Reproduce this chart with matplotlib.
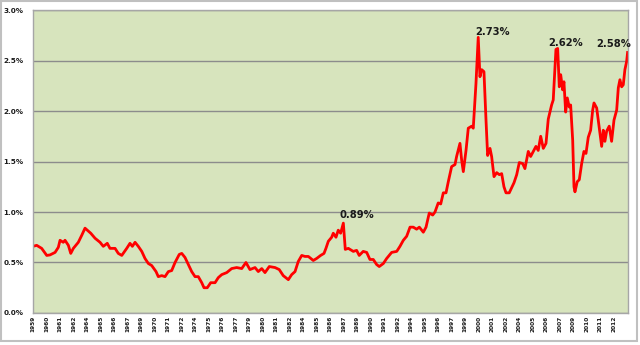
import matplotlib.pyplot as plt
from matplotlib.patches import Rectangle
from matplotlib.ticker import FuncFormatter

# valeurs (annee decimale, %)
annees = [1959.00, 1959.34, 1959.80, 1960.27, 1960.57, 1961.04, 1961.34, 1961.50, 1961.80, 1961.96,
          1962.27, 1962.49, 1962.73, 1963.19, 1963.51, 1963.81, 1964.02, 1964.34, 1964.74, 1965.20,
          1965.50, 1965.87, 1966.12, 1966.59, 1966.89, 1967.21, 1967.67, 1967.97, 1968.19, 1968.44,
          1968.74, 1969.06, 1969.36, 1969.67, 1969.98, 1970.38, 1970.59, 1970.91, 1971.21, 1971.52,
          1971.83, 1972.14, 1972.53, 1972.76, 1973.06, 1973.37, 1973.68, 1973.99, 1974.29, 1974.61,
          1974.82, 1975.12, 1975.44, 1975.84, 1976.14, 1976.46, 1976.92, 1977.38, 1977.84, 1978.31,
          1978.70, 1979.07, 1979.54, 1979.84, 1980.16, 1980.46, 1980.86, 1981.39, 1981.78, 1982.15,
          1982.62, 1982.93, 1983.24, 1983.54, 1983.86, 1984.16, 1984.47, 1984.93, 1985.24, 1985.61,
          1985.92, 1986.10, 1986.32, 1986.63, 1986.78, 1987.03, 1987.24, 1987.46, 1987.71, 1987.89,
          1988.17, 1988.63, 1988.94, 1989.18, 1989.55, 1989.87, 1990.17, 1990.48, 1990.79, 1991.03,
          1991.41, 1991.72, 1992.18, 1992.65, 1992.95, 1993.26, 1993.57, 1993.88, 1994.18, 1994.49,
          1994.74, 1995.11, 1995.36, 1995.66, 1995.98, 1996.19, 1996.49, 1996.72, 1996.96, 1997.21,
          1997.42, 1997.73, 1998.04, 1998.19, 1998.50, 1998.66, 1998.81, 1999.06, 1999.27, 1999.58,
          1999.73, 1999.98, 2000.19, 2000.35, 2000.51, 2000.72, 2000.91, 2001.06, 2001.28, 2001.43,
          2001.65, 2001.90, 2002.14, 2002.36, 2002.57, 2002.76, 2003.06, 2003.28, 2003.50, 2003.75,
          2003.99, 2004.30, 2004.51, 2004.82, 2005.04, 2005.28, 2005.53, 2005.74, 2005.97, 2006.21,
          2006.46, 2006.67, 2006.98, 2007.13, 2007.29, 2007.38, 2007.54, 2007.69, 2007.82, 2008.00,
          2008.12, 2008.28, 2008.43, 2008.61, 2008.74, 2008.93, 2009.05, 2009.14, 2009.35, 2009.54,
          2009.76, 2009.97, 2010.16, 2010.37, 2010.59, 2010.78, 2010.90, 2011.15, 2011.39, 2011.61,
          2011.76, 2011.91, 2012.07, 2012.31, 2012.53, 2012.75, 2013.00, 2013.15, 2013.30, 2013.46,
          2013.61, 2013.76, 2013.92, 2014.01]

valeurs = [0.66, 0.67, 0.64, 0.57, 0.575, 0.60, 0.65, 0.72, 0.70, 0.72,
           0.67, 0.59, 0.64, 0.70, 0.77, 0.84, 0.82, 0.79, 0.74, 0.70,
           0.66, 0.69, 0.64, 0.64, 0.59, 0.57, 0.64, 0.69, 0.66, 0.70,
           0.66, 0.61, 0.54, 0.49, 0.47, 0.41, 0.36, 0.37, 0.36, 0.41,
           0.42, 0.50, 0.58, 0.59, 0.55, 0.48, 0.41, 0.36, 0.36, 0.30,
           0.25, 0.25, 0.30, 0.30, 0.35, 0.38, 0.40, 0.44, 0.45, 0.44,
           0.50, 0.43, 0.45, 0.41, 0.44, 0.40, 0.46, 0.45, 0.43, 0.37,
           0.33, 0.38, 0.41, 0.51, 0.57, 0.56, 0.56, 0.52, 0.54, 0.57,
           0.59, 0.64, 0.71, 0.75, 0.79, 0.75, 0.82, 0.79, 0.89, 0.63,
           0.64, 0.61, 0.62, 0.57, 0.61, 0.60, 0.53, 0.53, 0.48, 0.46,
           0.49, 0.54, 0.60, 0.61, 0.66, 0.72, 0.76, 0.85, 0.85, 0.83,
           0.85, 0.80, 0.85, 0.99, 0.97, 1.00, 1.09, 1.08, 1.19, 1.19,
           1.30, 1.45, 1.47, 1.55, 1.68, 1.51, 1.40, 1.61, 1.83, 1.85,
           1.83, 2.27, 2.73, 2.34, 2.41, 2.39, 1.91, 1.56, 1.63, 1.55,
           1.35, 1.39, 1.37, 1.38, 1.25, 1.19, 1.19, 1.24, 1.29, 1.37,
           1.49, 1.48, 1.43, 1.60, 1.55, 1.60, 1.65, 1.61, 1.75, 1.63,
           1.68, 1.92, 2.06, 2.11, 2.44, 2.61, 2.62, 2.24, 2.36, 2.21,
           2.29, 1.99, 2.13, 2.04, 2.06, 1.71, 1.25, 1.20, 1.30, 1.32,
           1.48, 1.60, 1.58, 1.74, 1.81, 2.01, 2.08, 2.03, 1.83, 1.65,
           1.81, 1.70, 1.80, 1.85, 1.70, 1.91, 2.01, 2.23, 2.31, 2.24,
           2.26, 2.41, 2.49, 2.58]

# etiquettes de l'axe x (une tous les 15 mois, comme Excel)
etiquettes_x = ["1959", "1960", "1961", "1962", "1964", "1965", "1966", "1967", "1969", "1970",
                "1971", "1972", "1974", "1975", "1976", "1977", "1979", "1980", "1981", "1982",
                "1984", "1985", "1986", "1987", "1989", "1990", "1991", "1992", "1994", "1995",
                "1996", "1997", "1999", "2000", "2001", "2002", "2004", "2005", "2006", "2007",
                "2009", "2010", "2011", "2012"]

# pics annotes
pics_texte = ["0.89%", "2.73%", "2.62%", "2.58%"]
pics_annee = [1987.71, 2000.19, 2007.54, 2014.01]
pics_valeur = [0.89, 2.73, 2.62, 2.58]

fig = plt.figure(figsize=(6.4, 3.45), dpi=100)
fig.patch.set_facecolor("white")
ax = fig.add_axes([0.0516, 0.0928, 0.9297, 0.878])
ax.set_facecolor("#d7e4bd")

ax.plot(annees, valeurs, color="#ff0000", lw=2.0, solid_joinstyle="round")

ax.set_xlim(1959.0, 2014.05)
ax.set_ylim(0, 3.0)
ax.set_yticks([0, 0.5, 1.0, 1.5, 2.0, 2.5, 3.0])
ax.yaxis.set_major_formatter(FuncFormatter(lambda v, p: "%.1f%%" % v))
ax.grid(axis="y", color="#8c8c8c", lw=1.0)
ax.set_axisbelow(True)

pos_x = [1959 + 1.25 * i for i in range(len(etiquettes_x))]
ax.set_xticks(pos_x)
ax.set_xticklabels(etiquettes_x, rotation=90, fontsize=4.2, fontweight="bold", color="#1a1a1a")
ax.tick_params(axis="x", length=0, pad=2)
ax.tick_params(axis="y", length=0, pad=7, labelsize=5.2, labelcolor="#1a1a1a")
for t in ax.get_yticklabels():
    t.set_fontweight("bold")

for s in ax.spines.values():
    s.set_color("#a6a6a6")
    s.set_linewidth(1.0)

# textes des pics
decalages = [(9.5, 2.5), (10, 0.5), (5.5, 0.5), (-10, 2.5)]
for txt, xa, ya, d in zip(pics_texte, pics_annee, pics_valeur, decalages):
    ax.annotate(txt, (xa, ya), xytext=d, textcoords="offset points",
                ha="center", va="bottom", fontsize=7.2, fontweight="bold", color="#1a1a1a",
                annotation_clip=False)

# cadre du graphique
fig.patches.append(Rectangle((0.002, 0.012), 0.994, 0.985, transform=fig.transFigure,
                             fill=False, edgecolor="#c0c0c0", lw=1.5))

fig.savefig("out.png", dpi=100)
